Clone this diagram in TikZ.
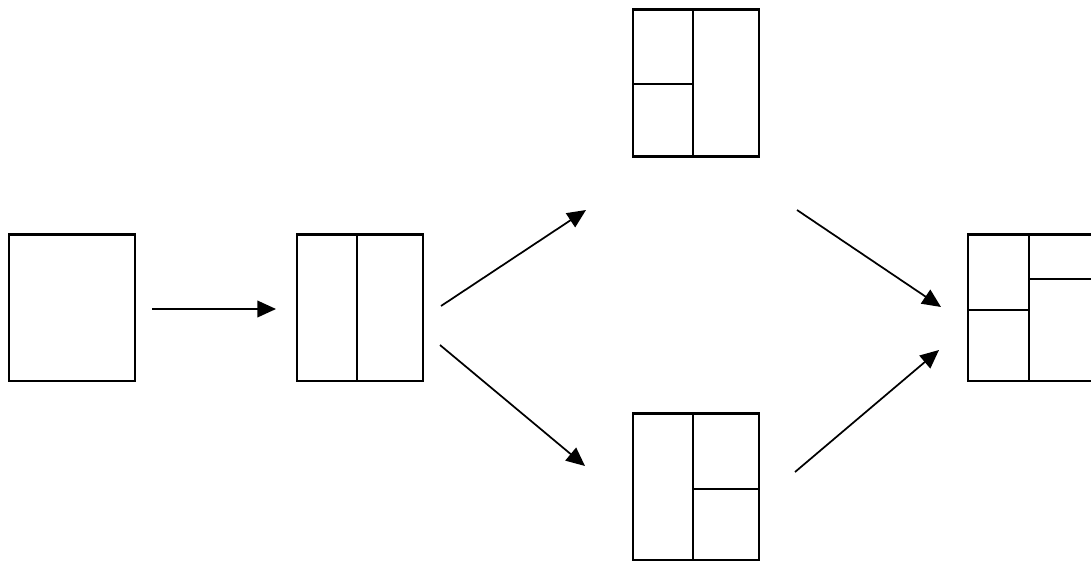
\documentclass[tikz,border=0pt]{standalone}
\usetikzlibrary{arrows.meta}
\begin{document}
\begin{tikzpicture}[x=0.75pt,y=-0.75pt,
  box/.style={draw=black,line width=2pt,minimum width=94.5pt,minimum height=110pt,inner sep=0pt,outer sep=0pt},
  divider/.style={draw=black,line width=2pt},
  link/.style={draw=black,line width=1.3pt,-{Triangle[length=14pt,width=12.5pt]}}]
\useasboundingbox (0,0) rectangle (1091,561);
% boxes (centres)
\node[box] (A) at (72,307.5) {};
\node[box] (B) at (360,307.5) {};
\node[box] (C) at (696,83) {};
\node[box] (D) at (696,486.5) {};
\node[box] (E) at (1031,307.5) {};
% dividers
\draw[divider] (B.north) ++(-3,0) coordinate (b1) -- (b1 |- B.south);
\draw[divider] (C.north) ++(-3,0) coordinate (c1) -- (c1 |- C.south);
\draw[divider] (C.west) ++(0,1) coordinate (c2) -- (c2 -| c1);
\draw[divider] (D.north) ++(-3,0) coordinate (d1) -- (d1 |- D.south);
\draw[divider] (D.east) ++(0,2.5) coordinate (d2) -- (d2 -| d1);
\draw[divider] (E.north) ++(-2,0) coordinate (e1) -- (e1 |- E.south);
\draw[divider] (E.west) ++(0,2.5) coordinate (e2) -- (e2 -| e1);
\draw[divider] (E.east) ++(0,-28.5) coordinate (e3) -- (e3 -| e1);
% arrow end points
\coordinate (a1s) at (152,309);
\coordinate (a1e) at (276,309);
\coordinate (a2s) at (441,306);
\coordinate (a2e) at (586,210);
\coordinate (a3s) at (440,345);
\coordinate (a3e) at (585,466);
\coordinate (a4s) at (797,210);
\coordinate (a4e) at (941,307);
\coordinate (a5s) at (795,472);
\coordinate (a5e) at (939,350);
\draw[link] (a1s) -- (a1e);
\draw[link] (a2s) -- (a2e);
\draw[link] (a3s) -- (a3e);
\draw[link] (a4s) -- (a4e);
\draw[link] (a5s) -- (a5e);
\end{tikzpicture}
\end{document}
